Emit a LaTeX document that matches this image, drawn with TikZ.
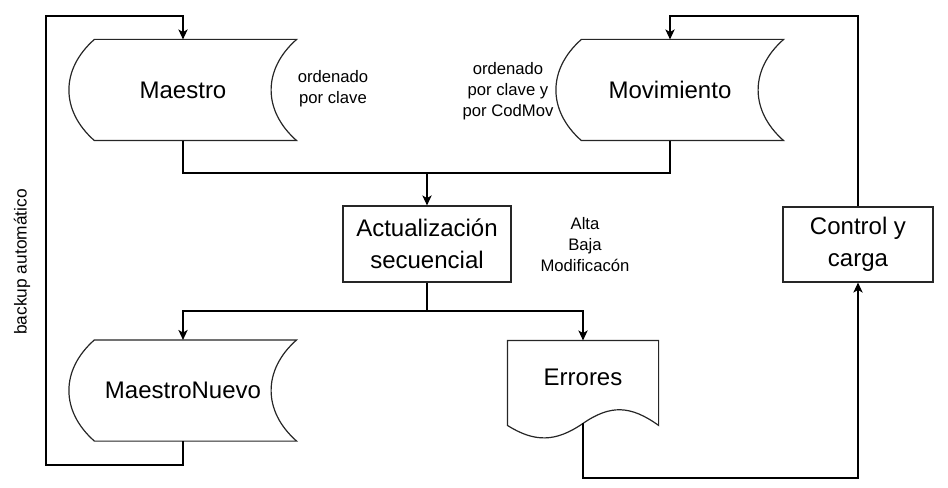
\documentclass[tikz,border=0pt]{standalone}
\usepackage{fontspec}
\setmainfont{Liberation Sans}
\usetikzlibrary{calc,arrows.meta}
\newcommand\storedoutline[1]{%
  \draw[shapeline] ($(#1.north west)+(25,0)$) -- (#1.north east)
    .. controls ($(#1.north east)+(-34,30)$) and ($(#1.south east)+(-34,-30)$) .. (#1.south east)
    -- ($(#1.south west)+(25,0)$)
    .. controls ($(#1.south west)+(-9,-30)$) and ($(#1.north west)+(-9,30)$) .. cycle;}
\begin{document}
\begin{tikzpicture}[x=0.75pt,y=-0.75pt,line width=0.9pt,
  shapeline/.style={draw=black!85,line width=0.9pt},
  big/.style={font=\fontsize{18}{24}\selectfont,align=center},
  small/.style={font=\fontsize{12.5}{15.75}\selectfont,align=center},
  stored/.style={big,inner sep=0pt,minimum width=169.5pt,minimum height=75pt},
  procbox/.style={big,draw=black!85,inner sep=0pt},
  docnode/.style={big,inner sep=0pt,minimum width=112.5pt,minimum height=54pt},
  conn/.style={draw=black,line width=0.9pt},
  arr/.style={conn,-{Stealth[length=7.5pt,width=7pt,inset=2pt]}}]
\useasboundingbox (0,0) rectangle (948,488);
% stored data shapes
\node[stored] (maestro) at (183,90) {Maestro};
\node[stored] (mov) at (670,90) {Movimiento};
\node[stored] (nuevo) at (183,390.5) {MaestroNuevo};
\storedoutline{maestro}
\storedoutline{mov}
\storedoutline{nuevo}
% process boxes
\node[procbox,minimum width=126pt,minimum height=57pt] (act) at (427,244) {Actualización\\secuencial};
\node[procbox,minimum width=112.5pt,minimum height=56.25pt] (control) at (858,244.5) {Control y\\carga};
% document
\node[docnode] (errores) at (583,377) {Errores};
\draw[shapeline] (errores.north west) -- (errores.north east) -- ($(errores.north east)+(0,85)$)
  .. controls ($(errores.north east)+(-28,65)$) and ($(errores.north east)+(-48,64)$) .. ($(errores.north)+(0,83)$)
  .. controls ($(errores.north west)+(48,102)$) and ($(errores.north west)+(27,102)$) .. ($(errores.north west)+(0,85)$)
  -- cycle;
% notes
\node[small] (n1) at (333,89) {ordenado\\por clave};
\node[small] (n2) at (508,91) {ordenado\\por clave y\\por CodMov};
\node[small] (n3) at (585,244.5) {Alta\\Baja\\Modificacón};
\node[small,font=\fontsize{13}{16}\selectfont,rotate=90] (n4) at (22,262) {backup automático};
% helper coordinates
\coordinate (join) at (427,173);
\coordinate (split) at (427,311);
\coordinate (errbot) at ($(errores.north)+(0,83)$);
\coordinate (errloop) at (858,478);
\coordinate (bl) at (46,465);
\coordinate (tl) at (46,16);
\coordinate (tr) at (670,16);
% connectors
\draw[conn] (maestro.south) |- (join);
\draw[conn] (mov.south) |- (join);
\draw[arr] (join) -- (act.north);
\draw[conn] (act.south) -- (split);
\draw[arr] (split) -| (nuevo.north);
\draw[arr] (split) -| (errores.north);
\draw[arr] (errbot) |- (errloop) -- (control.south);
\draw[arr] (control.north) |- (tr) -- (mov.north);
\draw[arr] (nuevo.south) |- (bl) -- (tl) -| (maestro.north);
\end{tikzpicture}
\end{document}
